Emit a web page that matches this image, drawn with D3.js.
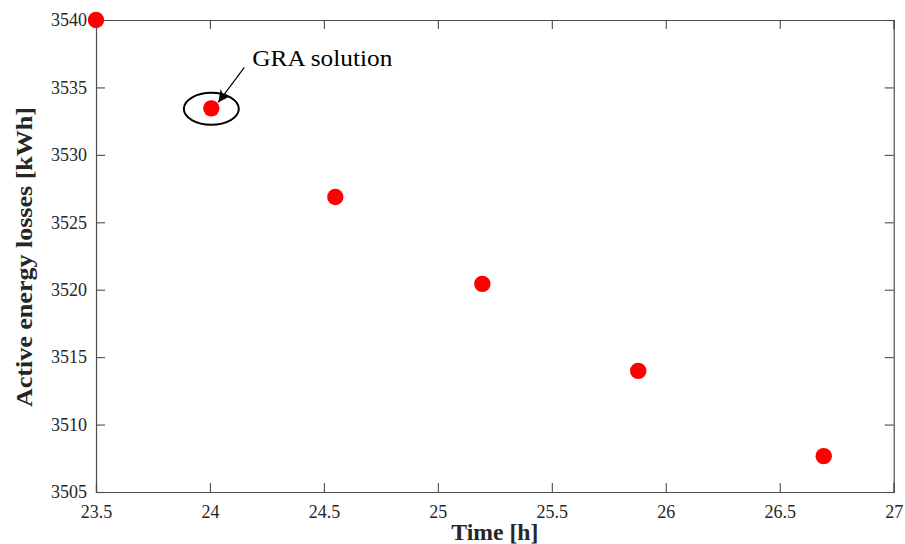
<!DOCTYPE html>
<html>
<head>
<meta charset="utf-8">
<script src="https://cdn.jsdelivr.net/npm/d3@7"></script>
<style>
  html, body { margin: 0; padding: 0; background: #fff; }
  svg { display: block; }
  .tick text { font-family: 'Liberation Serif', 'Times New Roman', serif; font-size: 18px; }
</style>
</head>
<body>
<svg id="chart" width="905" height="544"></svg>
<script>
// Trade-off between operating time and active energy losses
const timeHours = [23.5, 24.006, 24.55, 25.195, 25.879, 26.693];
const energyLosses = [3540, 3533.45, 3526.88, 3520.43, 3513.98, 3507.66];
const xTicks = [23.5, 24, 24.5, 25, 25.5, 26, 26.5, 27];
const yTicks = [3505, 3510, 3515, 3520, 3525, 3530, 3535, 3540];
const highlightIndex = 1;          // point chosen by GRA
const annotationText = "GRA solution";

const svg = d3.select("#chart");
const margin = { left: 96, right: 11.3, top: 20, bottom: 52 };
const W = 905, H = 544;
const serif = "'Liberation Serif', 'Times New Roman', serif";
const axisColor = "#4d4d4d";

const x = d3.scaleLinear().domain([23.5, 27]).range([margin.left, W - margin.right]);
const y = d3.scaleLinear().domain([3505, 3540]).range([H - margin.bottom, margin.top]);

const tickLen = 9;

// Axes: bottom/left carry labels, top/right mirror the ticks (box style)
const gx = svg.append("g").attr("transform", `translate(0,${y(3505)})`)
  .call(d3.axisBottom(x).tickValues(xTicks).tickSize(-tickLen).tickPadding(13)
    .tickFormat(d3.format("~g")));
const gxt = svg.append("g").attr("transform", `translate(0,${y(3540)})`)
  .call(d3.axisTop(x).tickValues(xTicks).tickSize(-tickLen).tickFormat(""));
const gy = svg.append("g").attr("transform", `translate(${x(23.5)},0)`)
  .call(d3.axisLeft(y).tickValues(yTicks).tickSize(-tickLen).tickPadding(9)
    .tickFormat(d3.format("d")));
const gyr = svg.append("g").attr("transform", `translate(${x(27)},0)`)
  .call(d3.axisRight(y).tickValues(yTicks).tickSize(-tickLen).tickFormat(""));

for (const g of [gx, gxt, gy, gyr]) {
  g.attr("font-family", serif).attr("font-size", 18);
  g.selectAll("path.domain").attr("stroke", axisColor).attr("stroke-width", 1.2);
  g.selectAll(".tick line").attr("stroke", axisColor).attr("stroke-width", 1.1);
  g.selectAll(".tick text").attr("fill", "#262626")
    .attr("font-family", serif).attr("font-size", 18);
}

// Axis titles
svg.append("text")
  .attr("x", x(25.25)).attr("y", 540)
  .attr("text-anchor", "middle")
  .attr("textLength", 87).attr("lengthAdjust", "spacingAndGlyphs")
  .attr("font-family", serif).attr("font-weight", "bold").attr("font-size", 24)
  .attr("fill", "#262626")
  .text("Time [h]");

svg.append("text")
  .attr("transform", "translate(32,257) rotate(-90)")
  .attr("text-anchor", "middle")
  .attr("textLength", 300).attr("lengthAdjust", "spacingAndGlyphs")
  .attr("font-family", serif).attr("font-weight", "bold").attr("font-size", 24)
  .attr("fill", "#262626")
  .text("Active energy losses [kWh]");

// Data points
svg.append("g").selectAll("circle")
  .data(timeHours.map((t, i) => ({ t, e: energyLosses[i] })))
  .join("circle")
  .attr("cx", d => x(d.t))
  .attr("cy", d => y(d.e))
  .attr("r", 8.2)
  .attr("fill", "#ff0000");

// Annotation: ellipse around the GRA point, arrow and label
const hx = x(timeHours[highlightIndex]);
const hy = y(energyLosses[highlightIndex]);

svg.append("ellipse")
  .attr("cx", hx).attr("cy", hy + 0.5)
  .attr("rx", 27.5).attr("ry", 16)
  .attr("fill", "none").attr("stroke", "#000").attr("stroke-width", 2);

svg.append("defs").append("marker")
  .attr("id", "arrowhead")
  .attr("viewBox", "0 0 10 10")
  .attr("refX", 10).attr("refY", 5)
  .attr("markerWidth", 14).attr("markerHeight", 12)
  .attr("markerUnits", "userSpaceOnUse")
  .attr("orient", "auto")
  .append("path")
  .attr("d", "M0,0 L10,5 L0,10 L3,5 Z")
  .attr("fill", "#000");

svg.append("line")
  .attr("x1", hx + 33).attr("y1", hy - 41)
  .attr("x2", hx + 7).attr("y2", hy - 6)
  .attr("stroke", "#000").attr("stroke-width", 1.2)
  .attr("marker-end", "url(#arrowhead)");

svg.append("text")
  .attr("x", hx + 41).attr("y", 66)
  .attr("textLength", 140).attr("lengthAdjust", "spacingAndGlyphs")
  .attr("font-family", serif).attr("font-size", 23)
  .attr("fill", "#000")
  .text(annotationText);
</script>
</body>
</html>
